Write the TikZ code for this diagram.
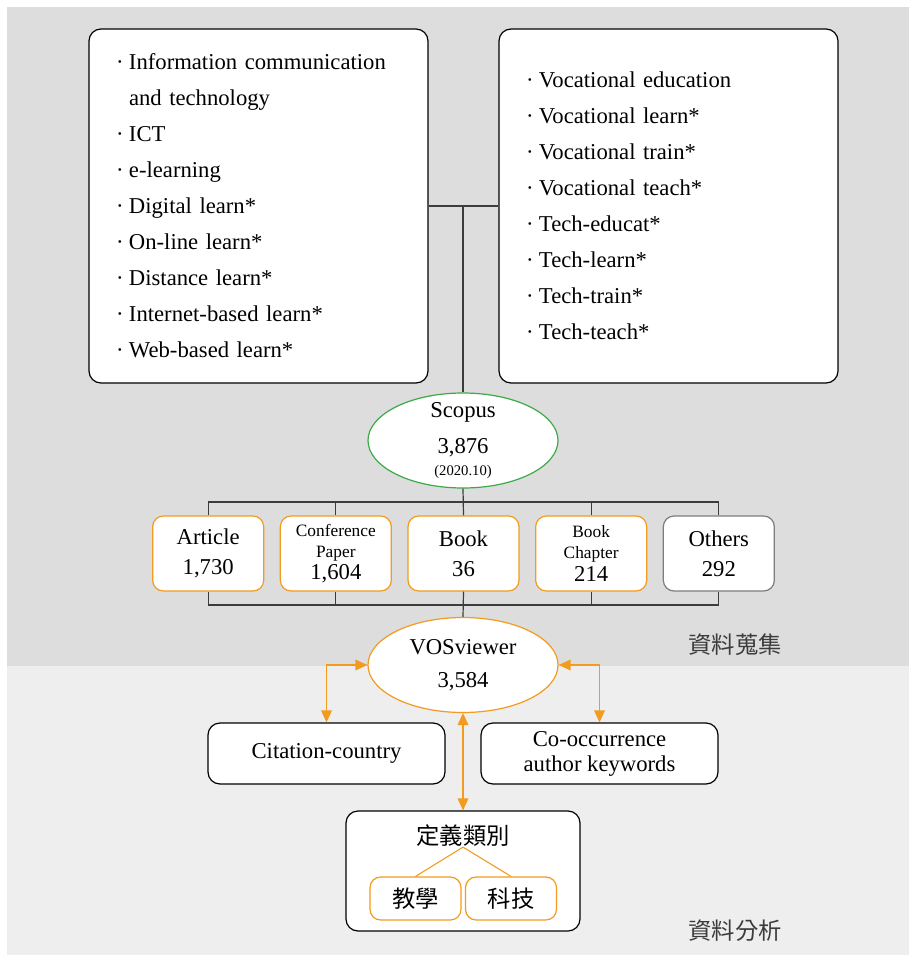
\documentclass[tikz,border=0pt]{standalone}
\usepackage{fontspec}
\setmainfont{Liberation Serif}
\newfontfamily\cjk{Noto Sans CJK TC}
\usepackage{xcolor}
\usetikzlibrary{arrows.meta,positioning,shapes.geometric}
\definecolor{fundoSup}{RGB}{220,221,220}
\definecolor{fundoInf}{RGB}{238,238,238}
\definecolor{laranja}{RGB}{242,155,30}
\definecolor{verde}{RGB}{60,170,70}
\definecolor{cinzaTexto}{RGB}{60,60,60}
\definecolor{cinzaBorda}{RGB}{125,125,125}
\newcommand{\marca}{\makebox[9.75pt][l]{·}}
\tikzset{
    lista/.style={
        rectangle,
        draw,
        line width=0.9pt,
        rounded corners=9pt,
        fill=white,
        align=left,
        text width=213.75pt,
        inner xsep=20.25pt,
        minimum height=265.5pt,
        font=\fontsize{17}{27}\selectfont
    },
    elipse/.style={
        ellipse,
        draw,
        line width=0.9pt,
        fill=white,
        inner sep=0pt,
        align=center,
        minimum width=142.5pt,
        minimum height=71.25pt
    },
    tipo/.style={
        rectangle,
        draw=laranja,
        line width=0.9pt,
        rounded corners=8pt,
        fill=white,
        align=center,
        inner sep=0pt,
        minimum width=83.25pt,
        minimum height=56.25pt,
        font=\fontsize{17}{22.5}\selectfont
    },
    analise/.style={
        rectangle,
        draw,
        line width=0.9pt,
        rounded corners=9pt,
        fill=white,
        align=center,
        inner sep=0pt,
        minimum width=177.75pt,
        minimum height=45.75pt,
        font=\fontsize{17}{18.75}\selectfont
    },
    categoria/.style={tipo, minimum width=68.25pt, minimum height=32.25pt, font=\cjk\fontsize{17.5}{20}\selectfont},
    ligacao/.style={draw=cinzaTexto, line width=0.9pt},
    ramo/.style={draw=laranja, line width=0.8pt},
    seta/.style={{Triangle[length=9pt,width=8pt]}-{Triangle[length=9pt,width=8pt]}, draw=laranja, line width=0.9pt},
    fase/.style={font=\cjk\fontsize{17.5}{20}\selectfont, text=cinzaTexto}
}

\begin{document}
\begin{tikzpicture}[x=0.75pt, y=-0.75pt, node distance=11.6pt]
    % fundo das duas fases
    \useasboundingbox (0,0) rectangle (909,955);
    \fill[fundoSup] (7,7) rectangle (909,666);
    \fill[fundoInf] (7,666) rectangle (909,955);

    % palavras-chave
    \node[lista] (esquerda) at (258.5,206) {\marca Information communication\\\hspace*{9.75pt}and technology\\\marca ICT\\\marca e-learning\\\marca Digital learn*\\\marca On-line learn*\\\marca Distance learn*\\\marca Internet-based learn*\\\marca Web-based learn*};
    \node[lista] (direita) at (668.5,206) {\marca Vocational education\\\marca Vocational learn*\\\marca Vocational train*\\\marca Vocational teach*\\\marca Tech-educat*\\\marca Tech-learn*\\\marca Tech-train*\\\marca Tech-teach*};

    \node[elipse, draw=verde, inner sep=-6pt, font=\fontsize{17}{27}\selectfont] (scopus) at (463,440.5) {Scopus\\3,876\\[-10pt]{\fontsize{11}{12}\selectfont (2020.10)}};

    % tipos de documento
    \node[tipo] (livro) at (463.5,553.5) {Book\\36};
    \node[tipo, left=of livro, font=\fontsize{13}{15.75}\selectfont] (conferencia) {Conference\\Paper\\[1pt]{\fontsize{17}{19}\selectfont 1,604}};
    \node[tipo, left=of conferencia] (artigo) {Article\\1,730};
    \node[tipo, right=of livro, font=\fontsize{13}{15.75}\selectfont] (capitulo) {Book\\Chapter\\[1pt]{\fontsize{17}{19}\selectfont 214}};
    \node[tipo, right=of capitulo, draw=cinzaBorda] (outros) {Others\\292};

    \node[elipse, draw=laranja, font=\fontsize{17}{24.75}\selectfont] (vos) at (463,665) {VOSviewer\\3,584};

    \node[analise] (citacao) at (326.5,753.5) {Citation-country};
    \node[analise] (coocorrencia) at (599.5,753.5) {Co-occurrence\\author keywords};

    \node[analise, minimum width=175.5pt, minimum height=90pt] (definicao) at (463,871) {};
    \node[font=\cjk\fontsize{17.5}{20}\selectfont, inner sep=0pt] (titulo) at (463,836) {定義類別};
    \node[categoria] (ensino) at (415.5,898.5) {教學};
    \node[categoria] (tecnologia) at (511,898.5) {科技};

    \node[fase] (coleta) at (735,645) {資料蒐集};
    \node[fase] (estudo) at (735,931) {資料分析};

    \coordinate (barraSup) at (463,502);
    \coordinate (barraInf) at (463,605);

    \draw[ligacao] (esquerda.east) -- (direita.west);
    \draw[ligacao] (scopus.north) -- (scopus.north |- esquerda.east);
    \draw[ligacao] (scopus.south) -- (livro.north);
    \draw[ligacao] (artigo.north) |- (barraSup) -| (outros.north);
    \draw[ligacao] (conferencia.north) -- (conferencia.north |- barraSup);
    \draw[ligacao] (capitulo.north) -- (capitulo.north |- barraSup);
    \draw[ligacao] (artigo.south) |- (barraInf) -| (outros.south);
    \draw[ligacao] (conferencia.south) -- (conferencia.south |- barraInf);
    \draw[ligacao] (capitulo.south) -- (capitulo.south |- barraInf);
    \draw[ligacao] (livro.south) -- (vos.north);

    \draw[seta] (vos.west) -| (citacao.north);
    \draw[seta] (vos.east) -| (coocorrencia.north);
    \draw[seta] (vos.south) -- (definicao.north);

    \draw[ramo] (titulo.south) -- (ensino.north);
    \draw[ramo] (titulo.south) -- (tecnologia.north);
\end{tikzpicture}
\end{document}
